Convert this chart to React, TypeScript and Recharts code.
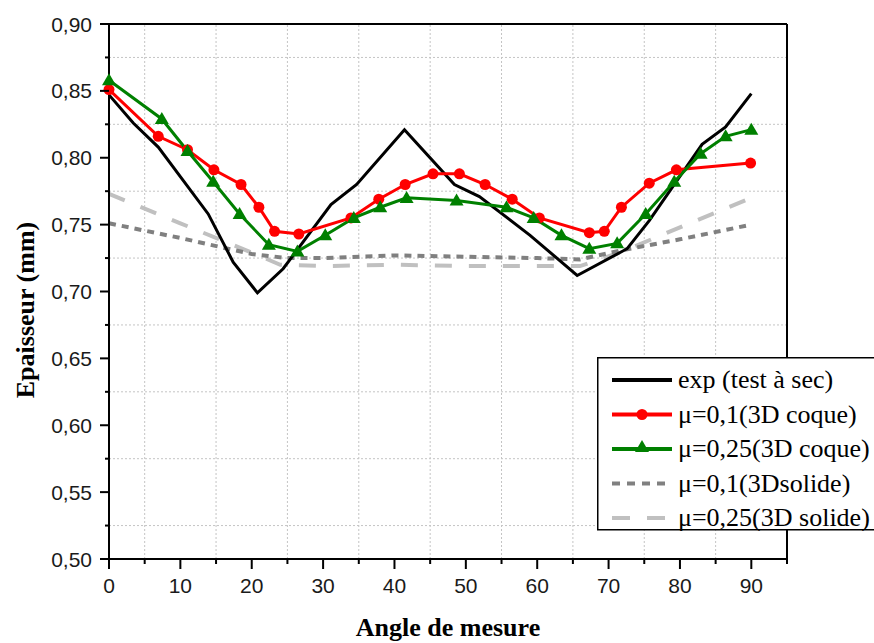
import { Line, LineChart, ReferenceLine, XAxis, YAxis } from "recharts";

const BLACK = "#000000";
const RED = "#ff0000";
const GREEN = "#008000";
const DARK_GREY = "#808080";
const LIGHT_GREY = "#c0c0c0";

// exp (test à sec)
const EXP_ANGLE = [0, 3.4, 6.9, 13.9, 17.4, 20.8, 24.4, 31.1, 34.7, 41.4, 48.4, 51.9, 59.0, 65.6, 72.6, 75.7, 83.1, 86.4, 90];
const EXP_VALUE = [0.847, 0.826, 0.808, 0.758, 0.722, 0.699, 0.717, 0.765, 0.78, 0.821, 0.78, 0.771, 0.742, 0.712, 0.732, 0.753, 0.81, 0.823, 0.848];

// μ=0,1 (3D coque)
const COQUE_01_ANGLE = [0, 6.9, 11.0, 14.7, 18.5, 21.0, 23.2, 26.6, 33.9, 37.8, 41.5, 45.4, 49.1, 52.7, 56.5, 60.3, 67.3, 69.4, 71.8, 75.7, 79.5, 89.9];
const COQUE_01_VALUE = [0.851, 0.816, 0.806, 0.791, 0.78, 0.763, 0.745, 0.743, 0.755, 0.769, 0.78, 0.788, 0.788, 0.78, 0.769, 0.755, 0.744, 0.745, 0.763, 0.781, 0.791, 0.796];

// μ=0,25 (3D coque)
const COQUE_025_ANGLE = [0, 7.4, 11.0, 14.6, 18.3, 22.4, 26.4, 30.3, 34.3, 38.0, 41.7, 48.7, 55.7, 59.5, 63.4, 67.3, 71.2, 75.2, 79.2, 82.9, 86.4, 90];
const COQUE_025_VALUE = [0.858, 0.829, 0.805, 0.782, 0.758, 0.735, 0.73, 0.742, 0.755, 0.763, 0.77, 0.768, 0.763, 0.755, 0.742, 0.732, 0.736, 0.758, 0.782, 0.803, 0.816, 0.821];

// μ=0,1 (3D solide)
const SOLIDE_01_ANGLE = [0, 10, 20, 25, 30, 40, 50, 60, 66, 72, 80, 90];
const SOLIDE_01_VALUE = [0.751, 0.74, 0.728, 0.725, 0.725, 0.727, 0.726, 0.725, 0.724, 0.731, 0.739, 0.75];

// μ=0,25 (3D solide)
const SOLIDE_025_ANGLE = [0, 10, 20, 24, 30, 40, 50, 60, 66, 72, 80, 90];
const SOLIDE_025_VALUE = [0.773, 0.751, 0.729, 0.72, 0.719, 0.72, 0.719, 0.719, 0.719, 0.73, 0.748, 0.77];

const X_TICKS = [0, 5, 10, 15, 20, 25, 30, 35, 40, 45, 50, 55, 60, 65, 70, 75, 80, 85, 90, 95];
const Y_TICKS = [0.5, 0.525, 0.55, 0.575, 0.6, 0.625, 0.65, 0.675, 0.7, 0.725, 0.75, 0.775, 0.8, 0.825, 0.85, 0.875, 0.9];
const X_GRID = [5, 15, 25, 35, 45, 55, 65, 75, 85];
const Y_GRID = [0.525, 0.575, 0.625, 0.675, 0.725, 0.775, 0.825, 0.875];

const LEGEND = [
  { name: "exp (test à sec)", color: BLACK, dash: undefined, marker: "none" },
  { name: "μ=0,1(3D coque)", color: RED, dash: undefined, marker: "circle" },
  { name: "μ=0,25(3D coque)", color: GREEN, dash: undefined, marker: "triangle" },
  { name: "μ=0,1(3Dsolide)", color: DARK_GREY, dash: "8 7", marker: "none" },
  { name: "μ=0,25(3D solide)", color: LIGHT_GREY, dash: "18 17", marker: "none" },
];

const zip = (xs: number[], ys: number[]) => xs.map((x, i) => ({ x, y: ys[i] }));

const TICK_FONT = "Liberation Sans";
const SERIF = "Liberation Serif";

function XTick({ x, y, payload }: any) {
  const v = payload.value as number;
  const major = v % 10 === 0;
  return (
    <g>
      <line x1={x} y1={y} x2={x} y2={y + (major ? 10 : 5)} stroke={BLACK} strokeWidth={2} />
      {major && (
        <text x={x} y={y + 34} textAnchor="middle" fontSize={21} fontFamily={TICK_FONT} fill="#1a1a1a">
          {v}
        </text>
      )}
    </g>
  );
}

function YTick({ x, y, payload }: any) {
  const v = payload.value as number;
  const major = Math.round(v * 1000) % 50 === 0;
  return (
    <g>
      <line x1={x} y1={y} x2={x - (major ? 9 : 4)} y2={y} stroke={BLACK} strokeWidth={2} />
      {major && (
        <text x={x - 17} y={y + 7.5} textAnchor="end" fontSize={21} fontFamily={TICK_FONT} fill="#1a1a1a">
          {v.toFixed(2).replace(".", ",")}
        </text>
      )}
    </g>
  );
}

function Triangle({ cx, cy, fill }: { cx?: number; cy?: number; fill: string }) {
  if (cx == null || cy == null) return null;
  return <path d={`M${cx},${cy - 7} L${cx + 7},${cy + 5} L${cx - 7},${cy + 5} Z`} fill={fill} />;
}

// legend drawn as its own svg so the serif font is applied like the axis titles
function LegendBox() {
  return (
    <svg width={277} height={174} style={{ position: "absolute", left: 597, top: 357 }}>
      <rect x={0.75} y={0.75} width={280} height={172} fill="#fff" stroke={BLACK} strokeWidth={1.5} />
      {LEGEND.map((item, i) => {
        const cy = 23 + i * 34.5;
        return (
          <g key={item.name}>
            <line x1={15} y1={cy} x2={75} y2={cy} stroke={item.color} strokeWidth={4} strokeDasharray={item.dash} />
            {item.marker === "circle" && <circle cx={45} cy={cy} r={5.5} fill={item.color} />}
            {item.marker === "triangle" && <Triangle cx={45} cy={cy - 2} fill={item.color} />}
            <text x={81} y={cy + 8} fontFamily={SERIF} fontSize={26} fill={BLACK}>
              {item.name}
            </text>
          </g>
        );
      })}
    </svg>
  );
}

export default function App() {
  return (
    <div style={{ position: "absolute", left: 0, top: 0, width: 874, height: 643, background: "#fff", overflow: "hidden" }}>
      <LineChart width={874} height={643} margin={{ top: 24, right: 87, bottom: 24, left: 49 }}>
        <XAxis
          type="number"
          dataKey="x"
          domain={[0, 95]}
          ticks={X_TICKS}
          interval={0}
          height={60}
          tickSize={0}
          tickMargin={0}
          tickLine={false}
          tick={(p: any) => <XTick {...p} />}
          axisLine={{ stroke: BLACK, strokeWidth: 2 }}
          allowDuplicatedCategory={false}
        />
        <YAxis
          type="number"
          dataKey="y"
          domain={[0.5, 0.9]}
          ticks={Y_TICKS}
          interval={0}
          width={60}
          tickSize={0}
          tickMargin={0}
          tickLine={false}
          tick={(p: any) => <YTick {...p} />}
          axisLine={{ stroke: BLACK, strokeWidth: 2 }}
        />
        {X_GRID.map((v) => (
          <ReferenceLine key={`gx${v}`} x={v} stroke="#c4c4c4" strokeDasharray="2 2" strokeWidth={1} />
        ))}
        {Y_GRID.map((v) => (
          <ReferenceLine key={`gy${v}`} y={v} stroke="#c4c4c4" strokeDasharray="2 2" strokeWidth={1} />
        ))}
        <ReferenceLine y={0.9} stroke={BLACK} strokeWidth={2} />
        <ReferenceLine x={95} stroke={BLACK} strokeWidth={2} />

        <Line
          data={zip(SOLIDE_025_ANGLE, SOLIDE_025_VALUE)}
          dataKey="y"
          type="linear"
          stroke={LIGHT_GREY}
          strokeWidth={4}
          strokeDasharray="17 17"
          dot={false}
          isAnimationActive={false}
        />
        <Line
          data={zip(SOLIDE_01_ANGLE, SOLIDE_01_VALUE)}
          dataKey="y"
          type="linear"
          stroke={DARK_GREY}
          strokeWidth={4}
          strokeDasharray="7 6"
          dot={false}
          isAnimationActive={false}
        />
        <Line
          data={zip(EXP_ANGLE, EXP_VALUE)}
          dataKey="y"
          type="linear"
          stroke={BLACK}
          strokeWidth={3}
          dot={false}
          isAnimationActive={false}
        />
        <Line
          data={zip(COQUE_01_ANGLE, COQUE_01_VALUE)}
          dataKey="y"
          type="linear"
          stroke={RED}
          strokeWidth={3}
          dot={{ r: 5.5, fill: RED, stroke: RED, strokeWidth: 0 }}
          isAnimationActive={false}
        />
        <Line
          data={zip(COQUE_025_ANGLE, COQUE_025_VALUE)}
          dataKey="y"
          type="linear"
          stroke={GREEN}
          strokeWidth={3}
          dot={(p: any) => <Triangle key={`t${p.index}`} cx={p.cx} cy={p.cy} fill={GREEN} />}
          isAnimationActive={false}
        />

        <text x={448} y={636} textAnchor="middle" fontFamily={SERIF} fontWeight="bold" fontSize={26} fill="#000">
          Angle de mesure
        </text>
        <text
          transform="translate(34,310) rotate(-90)"
          textAnchor="middle"
          fontFamily={SERIF}
          fontWeight="bold"
          fontSize={26}
          fill="#000"
        >
          Epaisseur (mm)
        </text>
      </LineChart>
      <LegendBox />
    </div>
  );
}
